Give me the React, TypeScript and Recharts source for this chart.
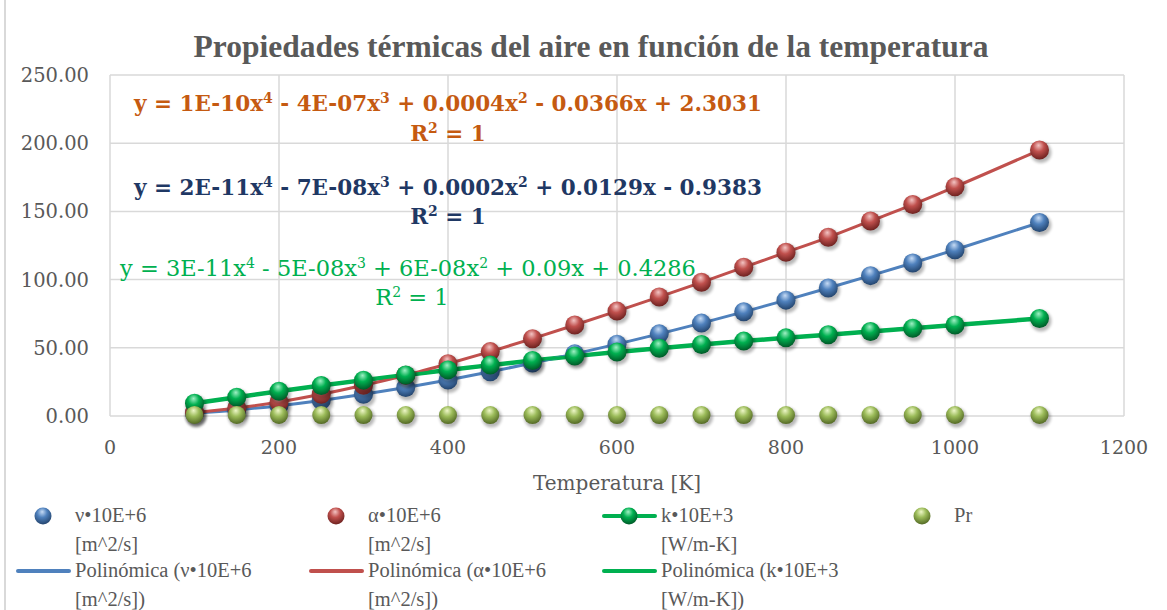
import React from 'react';
import { ComposedChart, Line, Scatter, XAxis, YAxis, CartesianGrid, Label } from 'recharts';

// Temperatura [K]
const temps = [100, 150, 200, 250, 300, 350, 400, 450, 500, 550, 600, 650, 700, 750, 800, 850, 900, 950, 1000, 1100];
// ν•10E+6 [m^2/s]
const nuVals = [2.0, 4.43, 7.59, 11.44, 15.89, 20.92, 26.41, 32.39, 38.79, 45.57, 52.69, 60.21, 68.1, 76.37, 84.93, 93.8, 102.9, 112.2, 121.9, 141.8];
// α•10E+6 [m^2/s]
const alphaVals = [2.54, 5.84, 10.3, 15.9, 22.5, 29.9, 38.3, 47.2, 56.7, 66.7, 76.9, 87.3, 98.0, 109, 120, 131, 143, 155, 168, 195];
// k•10E+3 [W/m-K]
const kVals = [9.34, 13.8, 18.1, 22.3, 26.3, 30.0, 33.8, 37.3, 40.7, 43.9, 46.9, 49.7, 52.4, 54.9, 57.3, 59.6, 62.0, 64.3, 66.7, 71.5];
// Pr
const prVals = [0.786, 0.758, 0.737, 0.72, 0.707, 0.7, 0.69, 0.686, 0.684, 0.683, 0.685, 0.69, 0.695, 0.702, 0.709, 0.716, 0.72, 0.723, 0.726, 0.728];

const xTicks = [0, 200, 400, 600, 800, 1000, 1200];
const yTicks = [0, 50, 100, 150, 200, 250];

const rows = temps.map((T, i) => ({ T, nu: nuVals[i], alpha: alphaVals[i], k: kVals[i], pr: prVals[i] }));

const BLUE = '#4F81BD';
const RED = '#C0504D';
const GREEN = '#00B050';
const GREY = '#595959';
const SERIF = '"Liberation Serif", "DejaVu Serif", serif';
const WIDE_SERIF = '"DejaVu Serif", serif';

// shaded "3D" ball marker like the Excel one
const Ball = ({ cx, cy, id, r = 9.5 }: any) => {
    if (cx == null || cy == null) return null;
    return (
        <g>
            <circle cx={cx + 1.5} cy={cy + 2.5} r={r + 1} fill="#000" opacity={0.28} filter="url(#blur)" />
            <circle cx={cx} cy={cy} r={r} fill={`url(#${id})`} />
        </g>
    );
};

const Grad = ({ id, light, mid, dark }: any) => (
    <radialGradient id={id} cx="45%" cy="35%" r="65%" fx="45%" fy="25%">
        <stop offset="0%" stopColor={light} />
        <stop offset="45%" stopColor={mid} />
        <stop offset="100%" stopColor={dark} />
    </radialGradient>
);

const gradColors: Record<string, any> = {
    gBlue: { light: '#c6dbf5', mid: '#4f81bd', dark: '#24456e' },
    gRed: { light: '#f3c4c3', mid: '#c0504d', dark: '#6e2220' },
    gGreen: { light: '#9ff0c4', mid: '#00b050', dark: '#005a28' },
    gOlive: { light: '#eef7c8', mid: '#9bbb59', dark: '#546a25' },
};

const LegendBall = ({ id }: { id: string }) => (
    <svg width={20} height={20} style={{ position: 'absolute', left: -10, top: -10, overflow: 'visible' }}>
        <defs>
            <Grad id={id + 'L'} {...gradColors[id]} />
        </defs>
        <circle cx={10} cy={10} r={8.5} fill={`url(#${id}L)`} />
    </svg>
);

const legendText: React.CSSProperties = {
    position: 'absolute', fontFamily: SERIF, fontSize: 20.5, color: GREY, lineHeight: '28px', whiteSpace: 'nowrap',
};

function LegendItem({ x, y, kind, color, grad, lines }: any) {
    return (
        <>
            {(kind === 'line' || kind === 'lineball') && (
                <div style={{ position: 'absolute', left: x, top: y - 2, width: 55, height: 4, background: color, borderRadius: 2 }} />
            )}
            {(kind === 'ball' || kind === 'lineball') && (
                <div style={{ position: 'absolute', left: x + 27, top: y }}>
                    <LegendBall id={grad} />
                </div>
            )}
            <div style={{ ...legendText, left: x + 59, top: y - 15 }}>
                {lines.map((l: string, i: number) => (
                    <div key={i} style={{ height: i === 0 ? 29 : 27 }}>{l}</div>
                ))}
            </div>
        </>
    );
}

const eqBase: React.CSSProperties = {
    position: 'absolute', whiteSpace: 'nowrap', transform: 'translateX(-50%)', lineHeight: '30px',
};
const supS: React.CSSProperties = { fontSize: 14, lineHeight: 0 };

export default function App() {
    return (
        <div style={{ position: 'absolute', left: 0, top: 0, width: 1167, height: 610, background: '#fff', overflow: 'hidden' }}>
            <div style={{ position: 'absolute', left: 4, top: 0, width: 2, height: 610, background: '#d9d9d9' }} />
            <div style={{
                position: 'absolute', left: 591, top: 29, transform: 'translateX(-50%)', whiteSpace: 'nowrap',
                fontFamily: SERIF, fontWeight: 'bold', fontSize: 31.5, color: GREY, lineHeight: '36px',
            }}>
                Propiedades térmicas del aire en función de la temperatura
            </div>
            <ComposedChart width={1167} height={610} data={rows} margin={{ top: 75, right: 43, left: 0, bottom: 116 }}>
                <defs>
                    <filter id="blur" x="-50%" y="-50%" width="200%" height="200%">
                        <feGaussianBlur stdDeviation="1.6" />
                    </filter>
                    {Object.keys(gradColors).map(id => <Grad key={id} id={id} {...gradColors[id]} />)}
                </defs>
                <CartesianGrid stroke="#d9d9d9" strokeWidth={1.5} />
                <XAxis dataKey="T" type="number" domain={[0, 1200]} ticks={xTicks} axisLine={false} tickLine={false}
                    tick={{ fill: GREY, fontSize: 19, fontFamily: WIDE_SERIF }} tickMargin={19} height={78}>
                    <Label value="Temperatura [K]" position="insideBottom" offset={4}
                        style={{ fill: GREY, fontSize: 20, fontFamily: WIDE_SERIF }} />
                </XAxis>
                <YAxis type="number" domain={[0, 250]} ticks={yTicks} axisLine={false} tickLine={false} width={110}
                    tickFormatter={(v: number) => v.toFixed(2)} tickMargin={15}
                    tick={{ fill: GREY, fontSize: 19.5, fontFamily: WIDE_SERIF }} />
                <Line dataKey="k" type="linear" stroke={GREEN} strokeWidth={4.5} dot={false} isAnimationActive={false} />
                <Scatter data={rows} dataKey="nu" isAnimationActive={false} shape={(p: any) => <Ball cx={p.cx} cy={p.cy} id="gBlue" />} />
                <Scatter data={rows} dataKey="alpha" isAnimationActive={false} shape={(p: any) => <Ball cx={p.cx} cy={p.cy} id="gRed" />} />
                <Line dataKey="nu" type="monotone" stroke={BLUE} strokeWidth={3} dot={false} isAnimationActive={false} />
                <Line dataKey="alpha" type="monotone" stroke={RED} strokeWidth={3} dot={false} isAnimationActive={false} />
                <Scatter data={rows} dataKey="k" isAnimationActive={false} shape={(p: any) => <Ball cx={p.cx} cy={p.cy} id="gGreen" />} />
                <Line dataKey="k" type="monotone" stroke={GREEN} strokeWidth={3} dot={false} isAnimationActive={false} />
                <Scatter data={rows} dataKey="pr" isAnimationActive={false} shape={(p: any) => <Ball cx={p.cx} cy={p.cy} id="gOlive" r={9} />} />
            </ComposedChart>

            {/* trendline equations */}
            <div style={{ ...eqBase, left: 448, top: 89, color: '#C55A11', fontFamily: WIDE_SERIF, fontWeight: 'bold', fontSize: 21.5 }}>
                y = 1E-10x<sup style={supS}>4</sup> - 4E-07x<sup style={supS}>3</sup> + 0.0004x<sup style={supS}>2</sup> - 0.0366x + 2.3031
            </div>
            <div style={{ ...eqBase, left: 448, top: 119, color: '#C55A11', fontFamily: WIDE_SERIF, fontWeight: 'bold', fontSize: 21.5 }}>
                R<sup style={supS}>2</sup> = 1
            </div>
            <div style={{ ...eqBase, left: 448, top: 173, color: '#1F3864', fontFamily: WIDE_SERIF, fontWeight: 'bold', fontSize: 21.5 }}>
                y = 2E-11x<sup style={supS}>4</sup> - 7E-08x<sup style={supS}>3</sup> + 0.0002x<sup style={supS}>2</sup> + 0.0129x - 0.9383
            </div>
            <div style={{ ...eqBase, left: 448, top: 202, color: '#1F3864', fontFamily: WIDE_SERIF, fontWeight: 'bold', fontSize: 21.5 }}>
                R<sup style={supS}>2</sup> = 1
            </div>
            <div style={{ ...eqBase, left: 408, top: 253, color: GREEN, fontFamily: WIDE_SERIF, fontSize: 22.5 }}>
                y = 3E-11x<sup style={supS}>4</sup> - 5E-08x<sup style={supS}>3</sup> + 6E-08x<sup style={supS}>2</sup> + 0.09x + 0.4286
            </div>
            <div style={{ ...eqBase, left: 412, top: 282, color: GREEN, fontFamily: WIDE_SERIF, fontSize: 22.5 }}>
                R<sup style={supS}>2</sup> = 1
            </div>

            {/* legend */}
            <LegendItem x={16} y={516} kind="ball" grad="gBlue" lines={['ν•10E+6', '[m^2/s]']} />
            <LegendItem x={309} y={516} kind="ball" grad="gRed" lines={['α•10E+6', '[m^2/s]']} />
            <LegendItem x={602} y={516} kind="lineball" color={GREEN} grad="gGreen" lines={['k•10E+3', '[W/m-K]']} />
            <LegendItem x={895} y={516} kind="ball" grad="gOlive" lines={['Pr']} />
            <LegendItem x={16} y={571} kind="line" color={BLUE} lines={['Polinómica (ν•10E+6', '[m^2/s])']} />
            <LegendItem x={309} y={571} kind="line" color={RED} lines={['Polinómica (α•10E+6', '[m^2/s])']} />
            <LegendItem x={602} y={571} kind="line" color={GREEN} lines={['Polinómica (k•10E+3', '[W/m-K])']} />
        </div>
    );
}
